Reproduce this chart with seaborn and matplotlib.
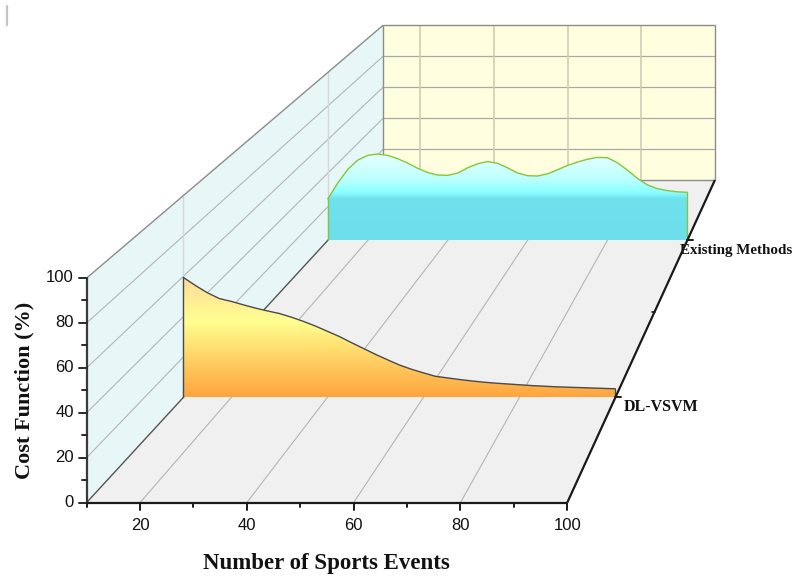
import numpy as np
import matplotlib
matplotlib.use("Agg")
import matplotlib.pyplot as plt
from matplotlib.transforms import Affine2D
from matplotlib.patches import Polygon
from matplotlib.colors import LinearSegmentedColormap
import seaborn as sns

# ---------------------------------------------------------------- data
events = [10, 12.5, 15, 17.5, 20, 22.5, 25, 27.5, 30, 32.5, 35, 37.5, 40,
          42.5, 45, 47.5, 50, 52.5, 55, 57.5, 60, 62.5, 65, 67.5, 70, 72.5,
          75, 77.5, 80, 82.5, 85, 87.5, 90, 92.5, 95, 97.5, 100]

dl_vsvm = [59.5, 55.5, 51.9, 49.0, 47.6, 45.9, 44.3, 42.9, 41.6, 39.8, 37.7,
           35.4, 32.8, 30.2, 27.2, 24.3, 21.4, 18.7, 16.1, 14.0, 12.2, 10.5,
           9.7, 8.9, 8.2, 7.6, 7.1, 6.7, 6.3, 5.9, 5.6, 5.3, 5.1, 4.9, 4.7,
           4.5, 4.3]

existing = [24.7, 34.2, 42.3, 47.8, 50.6, 51.4, 50.6, 48.6, 46.0, 42.9, 40.4,
            38.9, 38.7, 40.0, 43.2, 45.6, 46.9, 45.9, 43.2, 40.1, 38.5, 38.3,
            39.6, 42.0, 44.6, 46.6, 48.3, 49.4, 49.2, 46.2, 41.8, 36.9, 33.0,
            30.8, 29.6, 28.9, 28.6]

series_names = ["DL-VSVM", "Existing Methods"]
series_depth = [1, 3]
x_ticks = [20, 40, 60, 80, 100]
x_minor = [10, 30, 50, 70, 90]
y_ticks = [0, 20, 40, 60, 80, 100]
y_minor = [10, 30, 50, 70, 90]

# ---------------------------------------------------------------- style
sns.set_theme(style="white")
plt.rcParams["font.family"] = ["Liberation Sans", "DejaVu Sans"]
SERIF = ["Liberation Serif", "DejaVu Serif"]

W, H = 794, 576
fig = plt.figure(figsize=(W / 100, H / 100), dpi=100)
ax = fig.add_axes([0, 0, 1, 1])

# ---------------------------------------------------------------- 3D box (perspective)
X_MIN, X_MAX = 10, 100
Y_MIN, Y_MAX = 0, 100
Z_MAX = 4
ORIGIN = (86.7, 502.5)      # front-left-bottom corner on the canvas
KX, KY = 5.34, 2.245         # canvas units per data unit on the front plane
VP = (1043.5, -537.8)        # vanishing point
K_DEPTH = 0.1123


def plane(z):
    """Affine map of the constant-depth plane z onto the canvas."""
    f = 1.0 / (1.0 + K_DEPTH * z)
    tx = VP[0] + f * (ORIGIN[0] - KX * X_MIN - VP[0])
    ty = VP[1] + f * (ORIGIN[1] - VP[1])
    return Affine2D().scale(f * KX, -f * KY).translate(tx, ty)


def pt(x, y, z):
    return plane(z).transform((x, y))


def seg(p, q, **kw):
    a, b = pt(*p), pt(*q)
    ax.plot([a[0], b[0]], [a[1], b[1]], solid_capstyle="butt", **kw)


def face(points, color):
    xy = np.array([pt(*p) for p in points])
    ax.fill(xy[:, 0], xy[:, 1], color=color, lw=0, zorder=0)


# walls
face([(X_MIN, Y_MIN, 0), (X_MIN, Y_MAX, 0), (X_MIN, Y_MAX, Z_MAX), (X_MIN, Y_MIN, Z_MAX)], "#e7f6f6")
face([(X_MIN, Y_MIN, Z_MAX), (X_MAX, Y_MIN, Z_MAX), (X_MAX, Y_MAX, Z_MAX), (X_MIN, Y_MAX, Z_MAX)], "#ffffe0")
face([(X_MIN, Y_MIN, 0), (X_MAX, Y_MIN, 0), (X_MAX, Y_MIN, Z_MAX), (X_MIN, Y_MIN, Z_MAX)], "#f0f0f0")

grid = dict(color="#b5b5b5", lw=0.8, zorder=1)
for y in y_ticks[1:-1]:
    seg((X_MIN, y, 0), (X_MIN, y, Z_MAX), **grid)                       # left wall
    seg((X_MIN, y, Z_MAX), (X_MAX, y, Z_MAX), color="#a8a8a8", lw=0.9, zorder=1)  # back wall
for z in series_depth:
    seg((X_MIN, Y_MIN, z), (X_MIN, Y_MAX, z), color="#d4d8d8", lw=1.0, zorder=1)
for x in x_ticks[:-1]:
    seg((x, Y_MIN, 0), (x, Y_MIN, Z_MAX), **grid)                       # floor
    seg((x, Y_MIN, Z_MAX), (x, Y_MAX, Z_MAX), color="#cfcdb5", lw=1.2, zorder=1)

edge = dict(color="#8c8c8c", lw=1.0, zorder=1)
seg((X_MIN, Y_MAX, 0), (X_MIN, Y_MAX, Z_MAX), **edge)
seg((X_MIN, Y_MAX, Z_MAX), (X_MAX, Y_MAX, Z_MAX), **edge)
seg((X_MAX, Y_MAX, Z_MAX), (X_MAX, Y_MIN, Z_MAX), **edge)
seg((X_MIN, Y_MAX, Z_MAX), (X_MIN, Y_MIN, Z_MAX), **edge)
seg((X_MIN, Y_MIN, Z_MAX), (X_MAX, Y_MIN, Z_MAX), **edge)
seg((X_MIN, Y_MIN, 0), (X_MIN, Y_MIN, Z_MAX), color="#555555", lw=1.0, zorder=1)

# ---------------------------------------------------------------- walls of data
def wall_series(xs, ys, z, stops, line_color, zorder):
    T = plane(z) + ax.transData
    verts = [(X_MIN, 0)] + list(zip(xs, ys)) + [(X_MAX, 0)]
    clip = Polygon(verts, closed=True, transform=T, facecolor="none", edgecolor="none")
    ax.add_patch(clip)
    cmap = LinearSegmentedColormap.from_list("wall", stops)
    grad = np.linspace(0, 1, 256).reshape(-1, 1)
    im = ax.imshow(grad, cmap=cmap, extent=(X_MIN, X_MAX, 0, max(ys)), transform=T,
                   aspect="auto", interpolation="bilinear", zorder=zorder)
    im.set_clip_path(clip)
    sns.lineplot(x=xs, y=ys, ax=ax, color=line_color, lw=1.0, sort=False,
                 estimator=None, transform=T, zorder=zorder + 0.1)
    ax.plot([X_MIN, X_MIN], [0, ys[0]], color=line_color, lw=1.0, transform=T, zorder=zorder + 0.1)
    ax.plot([X_MAX, X_MAX], [0, ys[-1]], color=line_color, lw=1.0, transform=T, zorder=zorder + 0.1)


wall_series(events, existing, series_depth[1],
            [(0.0, "#e8ffff"), (0.3, "#bcffff"), (0.44, "#8effff"), (0.48, "#84f6fa"),
             (0.52, "#70e2ee"), (1.0, "#6cdeec")],
            "#86c53a", 3)
wall_series(events, dl_vsvm, series_depth[0],
            [(0.0, "#ffd99a"), (0.38, "#ffff90"), (0.7, "#ffcf62"), (1.0, "#ffa43e")],
            "#4a4a4a", 4)

# ---------------------------------------------------------------- axes
axis_kw = dict(color="#1a1a1a", lw=1.6, zorder=6)
seg((X_MIN, Y_MIN, 0), (X_MIN, Y_MAX, 0), color="#3a3a3a", lw=1.6, zorder=6)
seg((X_MIN, Y_MIN, 0), (X_MAX, Y_MIN, 0), **axis_kw)
seg((X_MAX, Y_MIN, 0), (X_MAX, Y_MIN, Z_MAX), **axis_kw)

tick_fs = 12
for y in y_ticks:
    p = pt(X_MIN, y, 0)
    ax.plot([p[0] - 8, p[0]], [p[1], p[1]], color="#2a2a2a", lw=1.4, zorder=6)
    ax.text(p[0] - 13, p[1], f"{y}", ha="right", va="center", fontsize=tick_fs, color="#111111")
for y in y_minor:
    p = pt(X_MIN, y, 0)
    ax.plot([p[0] - 4.5, p[0]], [p[1], p[1]], color="#2a2a2a", lw=1.4, zorder=6)
for x in x_ticks:
    p = pt(x, Y_MIN, 0)
    ax.plot([p[0], p[0]], [p[1], p[1] + 7.5], color="#1a1a1a", lw=1.4, zorder=6)
    ax.text(p[0], p[1] + 15, f"{x}", ha="center", va="top", fontsize=tick_fs, color="#111111")
for x in x_minor:
    p = pt(x, Y_MIN, 0)
    ax.plot([p[0], p[0]], [p[1], p[1] + 4.5], color="#1a1a1a", lw=1.4, zorder=6)

label_offsets = [(8, 10), (-7, 10)]
label_sizes = [11.5, 10.8]
for name, z, (dx, dy), fs in zip(series_names, series_depth, label_offsets, label_sizes):
    p = pt(X_MAX, Y_MIN, z)
    ax.plot([p[0], p[0] + 6], [p[1], p[1]], color="#1a1a1a", lw=1.4, zorder=6)
    ax.text(p[0] + dx, p[1] + dy, name, ha="left", va="center", fontsize=fs,
            fontweight="bold", family=SERIF, color="#111111")
p = pt(X_MAX, Y_MIN, 2)
ax.plot([p[0] - 3, p[0]], [p[1], p[1]], color="#1a1a1a", lw=1.2, zorder=6)

ax.text(326, 563, "Number of Sports Events", ha="center", va="center", fontsize=16.5,
        fontweight="bold", family=SERIF, color="#111111")
ax.text(24, 390, "Cost Function (%)", ha="center", va="center", rotation=90, fontsize=16,
        fontweight="bold", family=SERIF, color="#111111")

ax.plot([6.5, 6.5], [6, 25], color="#c4c4c4", lw=1.6)

ax.set_xlim(0, W)
ax.set_ylim(H, 0)
ax.axis("off")
fig.savefig("out.png", dpi=100)
